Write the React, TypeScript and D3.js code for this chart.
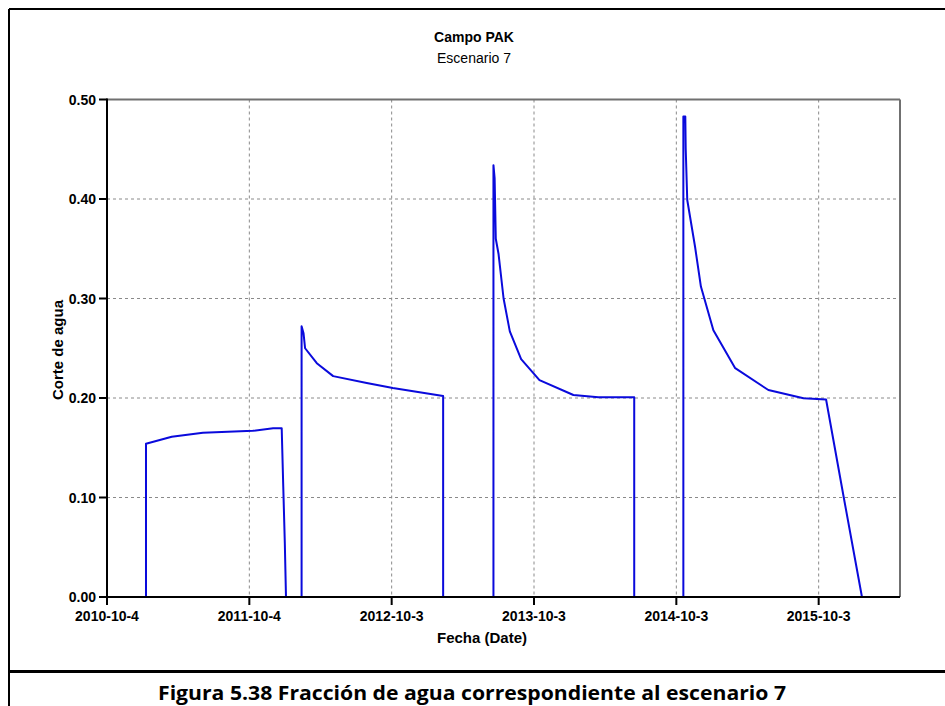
import React from "react";
import * as d3 from "d3";

// ---- data ----
const dates: string[] = [
  "2011-01-12", "2011-01-12", "2011-03-19", "2011-06-07", "2011-10-13", "2011-12-04", "2011-12-26",
  "2011-12-30", "2012-01-03", "2012-01-06",
  "2012-02-15", "2012-02-15", "2012-02-20", "2012-02-24", "2012-03-25", "2012-05-06", "2012-07-31",
  "2012-10-06", "2013-02-12", "2013-02-12",
  "2013-06-21", "2013-06-21", "2013-06-24", "2013-06-27", "2013-07-04", "2013-07-17", "2013-08-02",
  "2013-08-31", "2013-10-17", "2014-01-12", "2014-03-17", "2014-06-17", "2014-06-17",
  "2014-10-21", "2014-10-21", "2014-10-26", "2014-10-27", "2014-10-31", "2014-11-20", "2014-12-05",
  "2015-01-06", "2015-03-03", "2015-05-27", "2015-08-25", "2015-10-22", "2015-12-06", "2016-01-22",
  "2016-04-26",
];
const waterCut: number[] = [
  0, 0.154, 0.161, 0.165, 0.167, 0.1695, 0.1695,
  0.111, 0.054, 0,
  0, 0.272, 0.265, 0.25, 0.235, 0.222, 0.215,
  0.21, 0.202, 0,
  0, 0.434, 0.421, 0.36, 0.345, 0.3, 0.267,
  0.239, 0.218, 0.203, 0.2007, 0.2007, 0,
  0, 0.483, 0.483, 0.451, 0.399, 0.352, 0.312,
  0.268, 0.23, 0.208, 0.1997, 0.1985, 0.1008, 0,
  0,
];
const xTickDates: string[] = ["2010-10-04", "2011-10-04", "2012-10-03", "2013-10-03", "2014-10-03", "2015-10-03"];
const yTicks: number[] = [0, 0.1, 0.2, 0.3, 0.4, 0.5];
const xDomain: string[] = ["2010-10-04", "2016-04-26"];

const title = "Campo PAK";
const subtitle = "Escenario 7";
const xLabel = "Fecha (Date)";
const yLabel = "Corte de agua";
const caption = "Figura 5.38 Fracción de agua correspondiente al escenario 7";

const parse = d3.utcParse("%Y-%m-%d");
const fmtTick = (d: Date) => `${d.getUTCFullYear()}-${d.getUTCMonth() + 1}-${d.getUTCDate()}`;

export default function App() {
  const L = 107, R = 899, T = 99.5, B = 597;
  const x = d3.scaleUtc().domain(xDomain.map((s) => parse(s) as Date)).range([L, R]);
  const y = d3.scaleLinear().domain([0, 0.5]).range([B, T]);
  const pts = dates.map((d, i) => ({ d: parse(d) as Date, v: waterCut[i] }));
  const line = d3.line<{ d: Date; v: number }>().x((p) => x(p.d)).y((p) => y(p.v));
  const xt = xTickDates.map((s) => parse(s) as Date);
  const font = "'Liberation Sans', Arial, sans-serif";

  return (
    <svg width={945} height={706} style={{ position: "absolute", left: 0, top: 0, background: "#fff" }}>
      <rect x={0} y={0} width={945} height={706} fill="#fff" />
      {/* outer frame */}
      <line x1={9} y1={9} x2={945} y2={9} stroke="#000" strokeWidth={2} />
      <line x1={9} y1={9} x2={9} y2={706} stroke="#000" strokeWidth={2} />
      <line x1={9} y1={671.5} x2={945} y2={671.5} stroke="#000" strokeWidth={3} />

      {/* grid */}
      {yTicks.filter((t) => t > 0 && t < 0.5).map((t) => (
        <line key={"gy" + t} x1={L} x2={R} y1={y(t)} y2={y(t)} stroke="#8a8a8a" strokeDasharray="3,3" strokeWidth={1} />
      ))}
      {xt.slice(1).map((d, i) => (
        <line key={"gx" + i} x1={x(d)} x2={x(d)} y1={T} y2={B} stroke="#8a8a8a" strokeDasharray="3,3" strokeWidth={1} />
      ))}

      {/* frame */}
      <line x1={L} x2={R + 1} y1={T} y2={T} stroke="#707070" strokeWidth={2} />
      <line x1={R + 1} x2={R + 1} y1={T} y2={B} stroke="#707070" strokeWidth={2} />

      {/* series */}
      <path d={line(pts) || ""} fill="none" stroke="#0a0adc" strokeWidth={2} strokeLinejoin="round" />

      {/* axes */}
      <line x1={L} x2={L} y1={T - 1} y2={B + 1} stroke="#000" strokeWidth={2} />
      <line x1={L} x2={R + 1} y1={B} y2={B} stroke="#000" strokeWidth={2} />
      {yTicks.map((t) => (
        <g key={"yt" + t}>
          <line x1={99} x2={L} y1={y(t)} y2={y(t)} stroke="#000" strokeWidth={2} />
          <text x={96} y={y(t) + 5} textAnchor="end" fontFamily={font} fontWeight="bold" fontSize={14} fill="#000">
            {t.toFixed(2)}
          </text>
        </g>
      ))}
      {xt.map((d, i) => (
        <g key={"xt" + i}>
          <line x1={x(d)} x2={x(d)} y1={B} y2={B + 8} stroke="#000" strokeWidth={2} />
          <text x={x(d)} y={621} textAnchor="middle" fontFamily={font} fontWeight="bold" fontSize={14} fill="#000">
            {fmtTick(d)}
          </text>
        </g>
      ))}

      {/* titles */}
      <text x={474} y={42} textAnchor="middle" fontFamily={font} fontWeight="bold" fontSize={14} fill="#000">{title}</text>
      <text x={474} y={63} textAnchor="middle" fontFamily={font} fontSize={14} fill="#000">{subtitle}</text>
      <text x={482} y={643} textAnchor="middle" fontFamily={font} fontWeight="bold" fontSize={15} fill="#000">{xLabel}</text>
      <text transform="translate(63,350) rotate(-90)" textAnchor="middle" fontFamily={font} fontWeight="bold" fontSize={15} fill="#000">{yLabel}</text>

      {/* caption */}
      <text x={472} y={700} textAnchor="middle" fontFamily="'Open Sans', 'Noto Sans', sans-serif" fontWeight="bold" fontSize={20}
        textLength={628} lengthAdjust="spacingAndGlyphs" fill="#000">{caption}</text>
    </svg>
  );
}
